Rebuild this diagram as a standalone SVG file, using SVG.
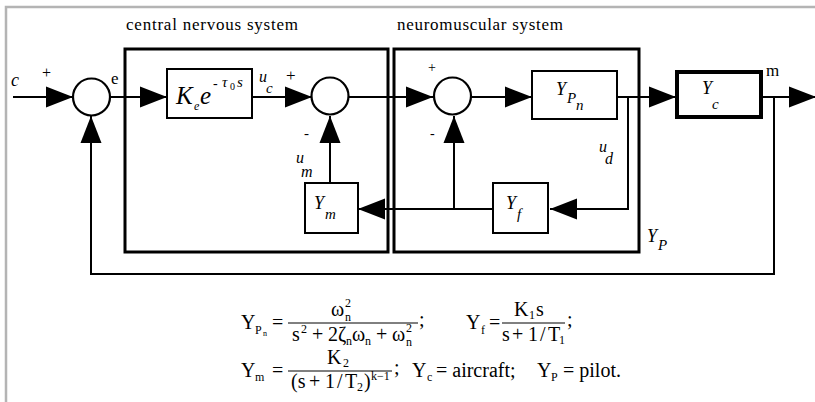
<svg xmlns="http://www.w3.org/2000/svg" xmlns:xlink="http://www.w3.org/1999/xlink" width="815" height="402" viewBox="0 0 815 402">
<style>
.ln{fill:none;stroke:#000;stroke-width:2}
.blk{fill:#fff;stroke:#000;stroke-width:2}
.big{fill:none;stroke:#000;stroke-width:3}
.sum{fill:#fff;stroke:#000;stroke-width:2.2}
.ah{fill:#000}
text{font-family:"Liberation Serif","Times New Roman",serif;fill:#000}
.it{font-style:italic}
.t{font-size:17px}
.lab{font-size:18px;font-style:italic}
.sub{font-size:15px;font-style:italic}
.eq{font-size:20px}
.es{font-size:12px}
</style>
<defs>
<path id="ah" d="M0,0 L-27,-10.5 L-27,10.5 Z"/>
</defs>
<rect width="815" height="402" fill="#fff"/>
<path d="M6,402 V7 H815" fill="none" stroke="#b4b4b4" stroke-width="2.5"/>

<g id="titles">
<text class="t" x="126" y="30" textLength="172">central nervous system</text>
<text class="t" x="397" y="30" textLength="166">neuromuscular system</text>
</g>

<g id="cns-box"><rect class="big" x="125" y="49" width="263" height="203"/></g>
<g id="nm-box"><rect class="big" x="394" y="49" width="245" height="203"/>
<text class="lab" x="647" y="242">Y</text><text class="sub" x="658" y="250">P</text></g>

<g id="connectors">
<path class="ln" d="M13,97 H73"/>
<path class="ln" d="M110,97 H167"/>
<path class="ln" d="M252,97 H312"/>
<path class="ln" d="M348,97 H433"/>
<path class="ln" d="M471,97 H532"/>
<path class="ln" d="M617,97 H676"/>
<path class="ln" d="M762,97 H815"/>
<path class="ln" d="M628,97 V209 H550"/>
<path class="ln" d="M493,209 H358"/>
<path class="ln" d="M454,209 V116"/>
<path class="ln" d="M330,183 V116"/>
<path class="ln" d="M774,97 V274 H91 V116"/>
<use xlink:href="#ah" class="ah" transform="translate(73,97)"/>
<use xlink:href="#ah" class="ah" transform="translate(167,97)"/>
<use xlink:href="#ah" class="ah" transform="translate(312,97)"/>
<use xlink:href="#ah" class="ah" transform="translate(433,97)"/>
<use xlink:href="#ah" class="ah" transform="translate(532,97)"/>
<use xlink:href="#ah" class="ah" transform="translate(676,97)"/>
<use xlink:href="#ah" class="ah" transform="translate(816,97)"/>
<use xlink:href="#ah" class="ah" transform="translate(550,209) rotate(180)"/>
<use xlink:href="#ah" class="ah" transform="translate(358,209) rotate(180)"/>
<use xlink:href="#ah" class="ah" transform="translate(454,116) rotate(-90)"/>
<use xlink:href="#ah" class="ah" transform="translate(330,116) rotate(-90)"/>
<use xlink:href="#ah" class="ah" transform="translate(91,116) rotate(-90)"/>
</g>

<g id="input"><text class="lab" x="11" y="86">c</text><text x="42" y="78" style="font-size:16px">+</text></g>

<g id="sum1"><circle class="sum" cx="91.5" cy="97" r="18.5"/>
<text x="111" y="84" style="font-size:17px">e</text></g>

<g id="Ke"><rect class="blk" x="167" y="69" width="85" height="49"/>
<text class="it" x="176" y="104" style="font-size:25px">K</text>
<text class="it" x="194" y="110" style="font-size:12px">e</text>
<text class="it" x="200" y="104" style="font-size:25px">e</text>
<text x="213" y="88" style="font-size:14px">-</text>
<text class="it" x="222" y="87" style="font-size:15px">τ</text>
<text x="230" y="90" style="font-size:10px">0</text>
<text class="it" x="237" y="87" style="font-size:15px">s</text>
<text class="it" x="259" y="82" style="font-size:16px">u</text>
<text class="it" x="266" y="93" style="font-size:15px">c</text>
<text x="286" y="81" style="font-size:17px">+</text></g>

<g id="sum2"><circle class="sum" cx="330" cy="96" r="18.5"/>
<text x="304" y="138" style="font-size:15px">-</text>
<text class="it" x="296" y="163" style="font-size:16px">u</text>
<text class="it" x="301" y="177" style="font-size:16px">m</text></g>

<g id="Ym"><rect class="blk" x="305" y="183" width="53" height="50"/>
<text class="lab" x="314" y="209">Y</text><text class="sub" x="325" y="219">m</text></g>

<g id="sum3"><circle class="sum" cx="452.5" cy="96" r="18.5"/>
<text x="428" y="72" style="font-size:14px">+</text>
<text x="430" y="138" style="font-size:14px">-</text></g>

<g id="Ypn"><rect class="blk" x="532" y="71" width="85" height="48"/>
<text class="lab" x="556" y="95">Y</text><text class="sub" x="567" y="103">P</text><text class="sub" x="576" y="110">n</text>
<text class="it" x="599" y="152" style="font-size:16px">u</text><text class="it" x="605" y="164" style="font-size:16px">d</text></g>

<g id="Yf"><rect class="blk" x="493" y="183" width="55" height="50"/>
<text class="lab" x="506" y="209">Y</text><text class="sub" x="517" y="219">f</text></g>

<g id="Yc"><rect x="677" y="72" width="84" height="45" fill="#fff" stroke="#000" stroke-width="4"/>
<text class="lab" x="702" y="94">Y</text><text class="sub" x="712" y="109">c</text>
<text x="766" y="76" style="font-size:17px">m</text></g>

<g id="equations">
<text class="eq" x="241" y="329">Y</text><text class="es" x="255" y="334">P</text><text style="font-size:8px" x="263" y="336">n</text>
<text class="eq" x="272" y="329">=</text>
<line x1="288" y1="323" x2="418" y2="323" stroke="#000" stroke-width="1"/>
<text class="eq" x="331" y="316">ω</text><text class="es" x="345" y="307">2</text><text class="es" x="345" y="321">n</text>
<text class="eq" x="292" y="341">s</text><text class="es" x="301" y="333">2</text>
<text class="eq" x="312" y="341">+</text>
<text class="eq" x="328" y="341">2ζ</text><text class="es" x="346" y="345">n</text>
<text class="eq" x="352" y="341">ω</text><text class="es" x="365" y="345">n</text>
<text class="eq" x="376" y="341">+</text>
<text class="eq" x="392" y="341">ω</text><text class="es" x="406" y="332">2</text><text class="es" x="406" y="346">n</text>
<text class="eq" x="419" y="326">;</text>

<text class="eq" x="466" y="329">Y</text><text class="es" x="481" y="334">f</text>
<text class="eq" x="489" y="329">=</text>
<line x1="502" y1="323" x2="565" y2="323" stroke="#000" stroke-width="1"/>
<text class="eq" x="514" y="316">K</text><text class="es" x="529" y="319">1</text><text class="eq" x="536" y="316">s</text>
<text class="eq" x="502" y="341">s</text><text class="eq" x="512" y="341">+</text><text class="eq" x="528" y="341">1</text><text class="eq" x="540" y="341">/</text><text class="eq" x="548" y="341">T</text><text class="es" x="559" y="344">1</text>
<text class="eq" x="567" y="326">;</text>

<text class="eq" x="241" y="377">Y</text><text class="es" x="255" y="381">m</text>
<text class="eq" x="272" y="377">=</text>
<line x1="288" y1="371" x2="392" y2="371" stroke="#000" stroke-width="1"/>
<text class="eq" x="327" y="364">K</text><text class="es" x="343" y="367">2</text>
<text class="eq" x="291" y="388">(s</text><text class="eq" x="309" y="388">+</text><text class="eq" x="325" y="388">1</text><text class="eq" x="337" y="388">/</text><text class="eq" x="345" y="388">T</text><text class="es" x="357" y="391">2</text><text class="eq" x="364" y="388">)</text><text class="es" x="371" y="380">k−1</text>
<text class="eq" x="394" y="374">;</text>
<text class="eq" x="412" y="377">Y</text><text class="es" x="427" y="381">c</text>
<text class="eq" x="436" y="377">= aircraft;</text>
<text class="eq" x="537" y="377">Y</text><text class="es" x="551" y="381">P</text>
<text class="eq" x="563" y="377">= pilot.</text>
</g>
</svg>
